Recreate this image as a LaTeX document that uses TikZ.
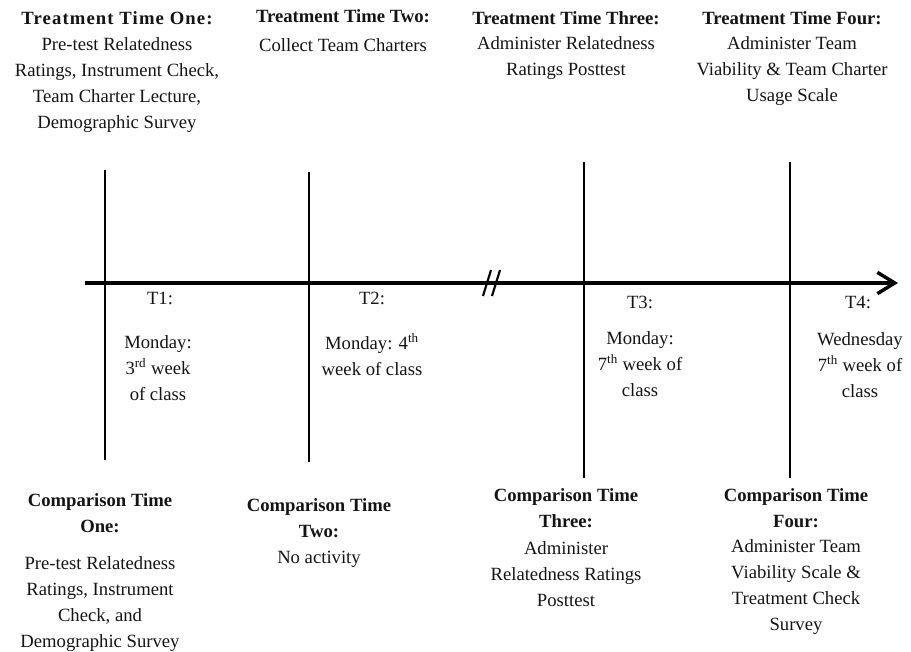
\documentclass[tikz,border=0pt]{standalone}
\usepackage{fontspec}
\setmainfont{Liberation Serif}
\usepackage{tikz}
\usetikzlibrary{arrows.meta,positioning}
\definecolor{inkline}{RGB}{0,0,0}
\definecolor{inktext}{RGB}{20,20,20}

\begin{document}
\begin{tikzpicture}[x=0.75pt, y=-0.75pt,
    txt/.style={inner sep=0pt, align=center, text=inktext, font=\fontsize{14}{19.5}\selectfont},
    head/.style={txt, font=\fontsize{14}{19.5}\selectfont\bfseries},
    axisline/.style={draw=inkline, line width=2.4pt},
    tickline/.style={draw=inkline, line width=2.2pt}]
    \useasboundingbox (0,0) rectangle (911,652);
    % timeline
    \coordinate (axisstart) at (85,283);
    \coordinate (axisend) at (898,283);
    \draw[axisline, -{Straight Barb[length=13pt, width=16pt, line width=2.6pt]}] (axisstart) -- (axisend);
    \coordinate (breakAa) at (483,296);
    \coordinate (breakAb) at (491,270);
    \coordinate (breakBa) at (492,296);
    \coordinate (breakBb) at (500,270);
    \draw[draw=inkline, line width=1.6pt] (breakAa) -- (breakAb);
    \draw[draw=inkline, line width=1.6pt] (breakBa) -- (breakBb);
    % ticks
    \coordinate (oneTop) at (105,170);
    \coordinate (oneBot) at (105,460);
    \coordinate (twoTop) at (309,172);
    \coordinate (twoBot) at (309,462);
    \coordinate (threeTop) at (584,162);
    \coordinate (threeBot) at (584,478);
    \coordinate (fourTop) at (790,162);
    \coordinate (fourBot) at (790,478);
    \draw[tickline] (oneTop) -- (oneBot);
    \draw[tickline] (twoTop) -- (twoBot);
    \draw[tickline] (threeTop) -- (threeBot);
    \draw[tickline] (fourTop) -- (fourBot);

    % treatment (above)
    \node[head] (treatOneHead) at (117,18) {\addfontfeature{LetterSpace=6}Treatment Time One:};
    \node[txt] (treatOneBody) at (117,85) {Pre-test Relatedness\\Ratings, Instrument Check,\\Team Charter Lecture,\\Demographic Survey};
    \node[head] (treatTwoHead) at (343,16) {Treatment Time Two:};
    \node[txt] (treatTwoBody) at (343,45) {Collect Team Charters};
    \node[head] (treatThreeHead) at (566,18) {Treatment Time Three:};
    \node[txt] (treatThreeBody) at (566,58.5) {Administer Relatedness\\Ratings Posttest};
    \node[head] (treatFourHead) at (792,18) {Treatment Time Four:};
    \node[txt] (treatFourBody) at (792,71.5) {Administer Team\\Viability \& Team Charter\\Usage Scale};

    % time points
    \node[txt] (tOne) at (160,298) {T1:};
    \node[txt] (tOneDate) at (158,368) {Monday:\\3\textsuperscript{rd} week\\of class};
    \node[txt] (tTwo) at (372,298) {T2:};
    \node[txt] (tTwoDate) at (372,354.5) {Monday: 4\textsuperscript{th}\\week of class};
    \node[txt] (tThree) at (640,302) {T3:};
    \node[txt] (tThreeDate) at (640,364) {Monday:\\7\textsuperscript{th} week of\\class};
    \node[txt] (tFour) at (858,302) {T4:};
    \node[txt] (tFourDate) at (860,365) {Wednesday\\7\textsuperscript{th} week of\\class};

    % comparison (below)
    \node[head] (compOneHead) at (100,513) {Comparison Time\\One:};
    \node[txt] (compOneBody) at (100,604) {Pre-test Relatedness\\Ratings, Instrument\\Check, and\\Demographic Survey};
    \node[head] (compTwoHead) at (319,518) {Comparison Time\\Two:};
    \node[txt] (compTwoBody) at (319,559) {No activity};
    \node[head] (compThreeHead) at (566,508.5) {Comparison Time\\Three:};
    \node[txt] (compThreeBody) at (566,574) {Administer\\Relatedness Ratings\\Posttest};
    \node[head] (compFourHead) at (796,508.5) {Comparison Time\\Four:};
    \node[txt] (compFourBody) at (796,587) {Administer Team\\Viability Scale \&\\Treatment Check\\Survey};
\end{tikzpicture}
\end{document}
